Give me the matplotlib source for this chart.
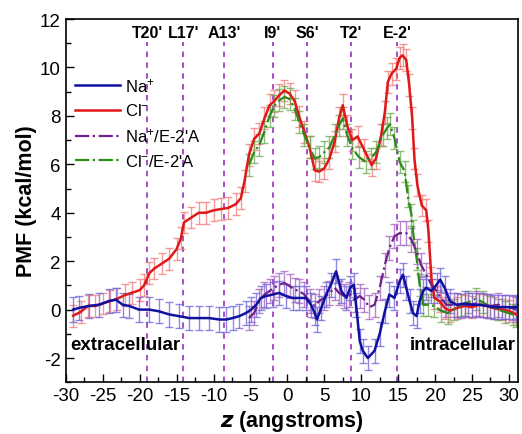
import matplotlib
matplotlib.use("Agg")
import matplotlib.pyplot as plt
from matplotlib.ticker import MultipleLocator
import numpy as np

plt.rcParams['font.family'] = ['Liberation Sans', 'DejaVu Sans']
plt.rcParams['axes.unicode_minus'] = False
plt.rcParams['mathtext.fontset'] = 'custom'
plt.rcParams['mathtext.rm'] = 'Liberation Sans'
plt.rcParams['mathtext.it'] = 'Liberation Sans:italic'
plt.rcParams['mathtext.bf'] = 'Liberation Sans:bold'

# ---- data ----
cl_z = [-29, -28, -27, -26, -25, -24, -23, -22, -21, -20, -19.4, -18.7, -18, -17, -16, -15, -14.4, -14,
        -13, -12, -11, -10, -9, -8, -7, -6.3, -5.8, -5.2, -4.5, -3.8, -3.1, -2.4, -1.8, -1.1, -0.4, 0.3,
        1.0, 1.6, 2.3, 3.0, 3.7, 4.3, 5.0, 5.7, 6.4, 7.0, 7.5, 8.1, 8.8, 9.5, 10.4, 11.4, 12.0, 12.7,
        13.2, 13.6, 14.1, 14.75, 15.2, 15.6, 16.1, 16.5, 16.9, 17.2, 17.6, 18.2, 18.8, 19.1, 19.5, 19.9,
        20.6, 21.3, 22, 23, 24, 25, 26, 27, 28, 29, 30, 31]
cl_y = [-0.25, -0.1, 0.15, 0.15, 0.25, 0.35, 0.45, 0.6, 0.7, 0.8, 1.0, 1.5, 1.7, 1.9, 2.1, 2.5, 2.95, 3.6,
        3.8, 4.0, 4.0, 4.1, 4.15, 4.2, 4.35, 4.6, 5.3, 6.4, 7.05, 7.27, 7.9, 8.44, 8.6, 8.85, 9.05, 8.92,
        8.6, 7.97, 7.35, 6.7, 5.75, 5.7, 5.83, 6.24, 6.94, 7.9, 8.44, 7.6, 7.0, 7.15, 6.6, 5.97, 6.24, 7.2,
        8.16, 9.4, 9.74, 9.95, 10.4, 10.5, 10.3, 9.26, 7.9, 6.24, 5.14, 4.3, 4.1, 3.24, 1.3, 0.48,
        0.35, 0.07, -0.05, 0.07, 0.15, 0.1, 0.2, 0.15, 0.05, 0.0, -0.05, -0.2]

clm_z = [-5.2, -4.5, -3.8, -3.1, -2.4, -1.8, -1.1, -0.4, 0.3, 1.0, 1.6, 2.3, 3.0, 3.7, 4.3, 5.0, 5.7, 6.4,
         7.0, 7.5, 8.1, 8.8, 9.7, 10.6, 11.3, 12.0, 12.9, 13.5, 13.9, 14.5, 15.2, 15.9, 16.3, 16.8, 17.0,
         17.5, 17.9, 18.4, 19.0, 19.9, 20.8, 21.7, 22.5, 23.5, 24.5, 25.5, 26.5, 27.5, 28.5, 29.5, 30.5, 31]
clm_y = [5.97, 6.5, 6.8, 7.35, 8.0, 8.4, 8.64, 8.78, 8.7, 8.3, 7.75, 7.2, 6.7, 6.24, 6.3, 6.5, 6.7, 7.2,
         7.6, 7.9, 7.2, 6.65, 6.3, 6.1, 6.24, 6.5, 7.2, 7.5, 7.65, 7.07, 6.1, 5.7, 4.7, 3.9, 3.24,
         2.1, 1.03, 0.2, 0.2, 0.15, -0.05, -0.14, 0.0, 0.2, 0.3, 0.45, 0.3, 0.1, 0.0, -0.1, -0.2, -0.25]

nam_z = [-5.2, -4.5, -3.8, -3.1, -2.4, -1.8, -1.1, -0.4, 0.3, 1.0, 1.6, 2.3, 3.0, 3.7, 4.3, 5.0, 5.7, 6.4,
         7.0, 7.7, 8.4, 9.1, 9.8, 10.4, 11.1, 11.8, 12.5, 13.2, 13.8, 14.5, 15.2, 16.1, 16.8, 17.5, 18.1,
         18.8, 19.5, 20.2, 20.8, 21.5, 22.5, 23.5, 24.5, 25.5, 26.5, 27.5, 28.5, 29.5, 30.5, 31]
nam_y = [-0.35, -0.14, 0.35, 0.62, 0.77, 0.9, 1.03, 1.1, 0.97, 0.82, 0.77, 0.62, 0.35, 0.15, 0.35, 0.48,
         0.69, 0.9, 0.69, 0.56, 0.62, 0.41, 0.56, 0.41, 0.1, 0.2, 0.9, 1.85, 2.54, 3.03, 3.16, 3.16, 2.88,
         2.4, 1.85, 1.44, 1.03, 0.77, 0.48, 0.2, 0.2, 0.15, 0.2, 0.25, 0.2, 0.15, 0.2, 0.1, 0.05, 0.0]

na_z = [-29, -28.2, -26.9, -25.5, -24.2, -23.2, -22.3, -21.4, -20.1, -18.7, -17.4, -16, -14.7, -13.3,
        -11.9, -10.6, -9.2, -8.3, -7.4, -6.5, -5.6, -4.9, -4.2, -3.6, -2.9, -2.0, -1.1, -0.2, 0.7, 1.6,
        2.5, 3.2, 3.7, 4.0, 4.6, 5.25, 5.9, 6.6, 7.3, 8.0, 8.5, 9.0, 9.3, 9.8, 10.2, 10.9, 11.8, 12.5,
        13.2, 13.8, 14.5, 15.2, 15.65, 16.1, 16.55, 17.0, 17.5, 17.9, 18.4, 18.8, 19.5, 20.2, 20.7, 21.3,
        22, 22.9, 24, 25, 26, 27, 28, 29, 30, 31]
na_y = [0.0, 0.07, 0.15, 0.2, 0.35, 0.41, 0.2, 0.15, 0.0, 0.0, -0.07, -0.2, -0.27, -0.35, -0.35, -0.35,
        -0.41, -0.41, -0.35, -0.27, -0.14, 0.0, 0.2, 0.48, 0.56, 0.62, 0.69, 0.56, 0.48, 0.48, 0.48, 0.2,
        -0.14, -0.41, 0.07, 0.62, 1.03, 1.58, 0.77, 0.48, 0.9, 1.03, 0.2, -1.3, -1.7, -2.0, -1.7, -1.0,
        -0.07, 0.62, 0.48, 1.17, 1.44, 0.9, 0.35, -0.14, -0.27, 0.35, 0.77, 0.9, 0.77, 1.03, 1.23, 0.9,
        0.35, 0.2, 0.25, 0.2, 0.2, 0.15, 0.1, 0.1, 0.1, 0.1]

err_cl = 0.45
err_clm = 0.45
err_nam = 0.5
err_na = 0.5

residues = ["T20'", "L17'", "A13'", "I9'", "S6'", "T2'", "E-2'"]
residue_z = [-19.0, -14.1, -8.6, -2.0, 2.7, 8.6, 14.9]

xticks = [-30, -25, -20, -15, -10, -5, 0, 5, 10, 15, 20, 25, 30]
yticks = [-2, 0, 2, 4, 6, 8, 10, 12]

# ---- figure ----
fig = plt.figure(figsize=(5.22, 4.35), dpi=100)
ax = fig.add_axes([0.126, 0.119, 0.866, 0.835])

# residue lines
for z in residue_z:
    ax.plot([z, z], [-3, 11.05], color='#a040c8', lw=1.3, ls=(0, (3, 3)), zorder=1)
for name, z in zip(residues, residue_z):
    ax.text(z, 11.45, name, ha='center', va='center', fontsize=11.5, fontweight='bold')

# error bars
ax.errorbar(cl_z, cl_y, yerr=err_cl, fmt='none', ecolor='#f07878', elinewidth=1, capsize=3, alpha=0.75, zorder=2)
ax.errorbar(clm_z, clm_y, yerr=err_clm, fmt='none', ecolor='#6aaa50', elinewidth=1, capsize=3, alpha=0.75, zorder=2)
ax.errorbar(nam_z, nam_y, yerr=err_nam, fmt='none', ecolor='#a060c0', elinewidth=1, capsize=3, alpha=0.75, zorder=2)
ax.errorbar(na_z, na_y, yerr=err_na, fmt='none', ecolor='#6a60d8', elinewidth=1, capsize=3, alpha=0.75, zorder=2)

# lines
l_cl, = ax.plot(cl_z, cl_y, color='#e01818', lw=1.8, zorder=4, label='Cl$^{-}$')
l_clm, = ax.plot(clm_z, clm_y, color='#2e8a1a', lw=1.6, ls='-.', zorder=4, label="Cl$^{-}$/E-2'A")
l_nam, = ax.plot(nam_z, nam_y, color='#70208a', lw=1.6, ls='-.', zorder=4, label="Na$^{+}$/E-2'A")
l_na, = ax.plot(na_z, na_y, color='#1010a0', lw=1.8, zorder=5, label='Na$^{+}$')

leg = ax.legend(handles=[l_na, l_cl, l_nam, l_clm], loc='upper left', bbox_to_anchor=(-0.005, 0.875),
                frameon=False, fontsize=12, handlelength=2.7, handletextpad=0.3, labelspacing=0.5,
                borderaxespad=0.3)

ax.text(-29.4, -1.45, 'extracellular', fontsize=13.5, fontweight='bold', va='center', ha='left')
ax.text(30.9, -1.45, 'intracellular', fontsize=13.5, fontweight='bold', va='center', ha='right')

ax.set_xlim(-30, 31.2)
ax.set_ylim(-3, 12)
ax.set_xticks(xticks)
ax.set_yticks(yticks)
ax.xaxis.set_minor_locator(MultipleLocator(2.5))
ax.yaxis.set_minor_locator(MultipleLocator(1))
ax.tick_params(which='both', direction='in', top=False, right=False, labelsize=13.5)
ax.tick_params(which='major', length=6, width=1)
ax.tick_params(which='minor', length=3.5, width=1)
for s in ax.spines.values():
    s.set_linewidth(1.2)

ax.set_xlabel(r'$\mathbfit{z}$ (angstroms)', fontsize=15.5, fontweight='bold', labelpad=3)
ax.set_ylabel('PMF (kcal/mol)', fontsize=15.5, fontweight='bold', labelpad=2)

fig.savefig('out.png', dpi=100)
